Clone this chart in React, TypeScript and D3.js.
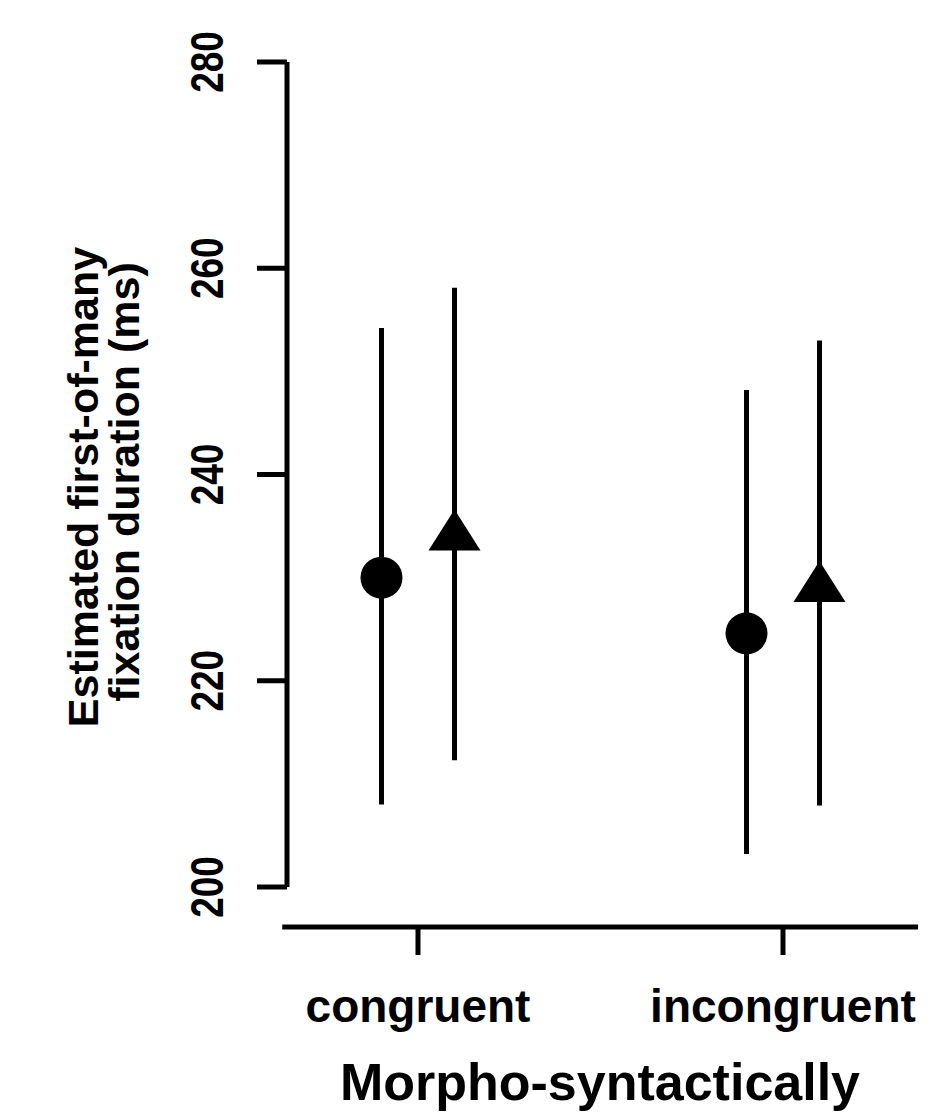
import React from "react";
import * as d3 from "d3";

const categories = ["congruent", "incongruent"];
const circleMean = [230.0, 224.6];
const circleLo = [208.0, 203.2];
const circleHi = [254.2, 248.2];
const triMean = [234.0, 229.0];
const triLo = [212.3, 207.9];
const triHi = [258.1, 253.0];
const yTicks = [200, 220, 240, 260, 280];

export default function App() {
  const W = 945, H = 1120;
  const y = d3.scaleLinear().domain([200, 280]).range([887, 62]);
  const x = d3.scaleLinear().domain([1, 2]).range([418, 783]);
  const off = 0.1;
  const axisX = 287;
  const axisY = 927;
  const lw = 5;
  const font = "'Liberation Sans', Arial, sans-serif";
  const tri = "M0,-27L26,14L-26,14Z";

  return (
    <svg width={W} height={H} style={{ position: "absolute", left: 0, top: 0, background: "#fff" }}>
      <rect width={W} height={H} fill="#fff" />
      {/* y axis */}
      <line x1={axisX} x2={axisX} y1={y(200)} y2={y(280)} stroke="#000" strokeWidth={lw} />
      {yTicks.map((t) => (
        <g key={t}>
          <line x1={axisX - 30} x2={axisX} y1={y(t)} y2={y(t)} stroke="#000" strokeWidth={lw} />
          <text
            transform={`translate(223,${y(t)}) rotate(-90) scale(1,1.25)`}
            textAnchor="middle"
            fontFamily={font}
            fontWeight="bold"
            fontSize={37}
          >
            {t}
          </text>
        </g>
      ))}
      {/* x axis */}
      <line x1={x(0.628)} x2={x(2.37)} y1={axisY} y2={axisY} stroke="#000" strokeWidth={lw} />
      {categories.map((c, i) => (
        <g key={c}>
          <line x1={x(i + 1)} x2={x(i + 1)} y1={axisY} y2={axisY + 28} stroke="#000" strokeWidth={lw} />
          <text x={x(i + 1)} y={1022} textAnchor="middle" fontFamily={font} fontWeight="bold" fontSize={46}>
            {c}
          </text>
        </g>
      ))}
      <text x={600} y={1100} textAnchor="middle" fontFamily={font} fontWeight="bold" fontSize={52}>
        Morpho-syntactically
      </text>
      <text transform={`translate(98,487) rotate(-90)`} textAnchor="middle" fontFamily={font} fontWeight="bold" fontSize={43}>
        Estimated first-of-many
      </text>
      <text transform={`translate(139,482) rotate(-90)`} textAnchor="middle" fontFamily={font} fontWeight="bold" fontSize={43}>
        fixation duration (ms)
      </text>
      {/* data */}
      {categories.map((c, i) => (
        <g key={"d" + c}>
          <line x1={x(i + 1 - off)} x2={x(i + 1 - off)} y1={y(circleLo[i])} y2={y(circleHi[i])} stroke="#000" strokeWidth={lw} />
          <circle cx={x(i + 1 - off)} cy={y(circleMean[i])} r={21} fill="#000" />
          <line x1={x(i + 1 + off)} x2={x(i + 1 + off)} y1={y(triLo[i])} y2={y(triHi[i])} stroke="#000" strokeWidth={lw} />
          <path d={tri} transform={`translate(${x(i + 1 + off)},${y(triMean[i])})`} fill="#000" />
        </g>
      ))}
    </svg>
  );
}
